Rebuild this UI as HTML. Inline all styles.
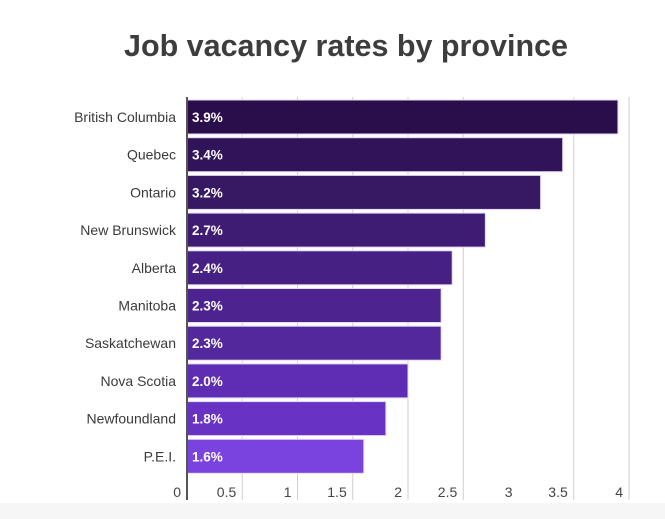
<!DOCTYPE html>
<html><head><meta charset="utf-8"><style>
body{margin:0;background:#fff;}
svg{display:block;font-family:"Liberation Sans",sans-serif;}
</style></head><body>
<svg id="chart" width="665" height="519">
<rect x="0" y="503" width="665" height="16" fill="#f6f6f6"/>
<text x="346" y="56" text-anchor="middle" font-size="31" font-weight="bold" fill="#3d3d3d" textLength="444" lengthAdjust="spacingAndGlyphs">Job vacancy rates by province</text>
<g id="grid"></g><g id="bars"></g><g id="labels"></g>
</svg>
<script>
const categories=["British Columbia","Quebec","Ontario","New Brunswick","Alberta","Manitoba","Saskatchewan","Nova Scotia","Newfoundland","P.E.I."];
const values=[3.9,3.4,3.2,2.7,2.4,2.3,2.3,2.0,1.8,1.6];
const ticks=[0,0.5,1,1.5,2,2.5,3,3.5,4];
const colors=["#2a0d4b","#301358","#361863","#3e1c74","#462083","#4d248f","#54289d","#5e2db3","#6832c5","#7a43df"];
const NS="http://www.w3.org/2000/svg";
const x0=187,unit=110.5,top0=100,pitch=37.7,bh=34;
const xs=v=>x0+v*unit;
const ys=i=>top0+i*pitch;
function mk(tag,attrs,parent){const e=document.createElementNS(NS,tag);for(const k in attrs)e.setAttribute(k,attrs[k]);document.getElementById(parent).appendChild(e);return e;}
ticks.forEach(t=>{
  if(t>0 && t!==3){const l=mk('line',{x1:xs(t),x2:xs(t),y1:97,y2:500,stroke:'#cfcfcf','stroke-width':1},'grid');
  
  }
  const tx=mk('text',{x:xs(t)-6,y:497,'text-anchor':'end','font-size':14,fill:'#444'},'grid');
  tx.textContent=String(t);
  
  
});
categories.forEach((c,i)=>{
  const r=mk('rect',{x:x0,y:ys(i),width:xs(values[i])-x0,height:bh,fill:colors[i],stroke:'#e6d8f2','stroke-width':1},'bars');
  
  
  const v=mk('text',{x:x0+5,y:ys(i)+bh/2+5,'font-size':13.5,'font-weight':'bold',fill:'#fff'},'bars');
  v.textContent=values[i].toFixed(1)+'%';
  
  
  const l=mk('text',{x:176,y:ys(i)+bh/2+5,'text-anchor':'end','font-size':14,fill:'#3a3a3a'},'labels');
  l.textContent=c;
  
  
});
const ax=mk('line',{x1:x0,x2:x0,y1:97,y2:500,stroke:'#555','stroke-width':2},'labels');


</script>
</body></html>
